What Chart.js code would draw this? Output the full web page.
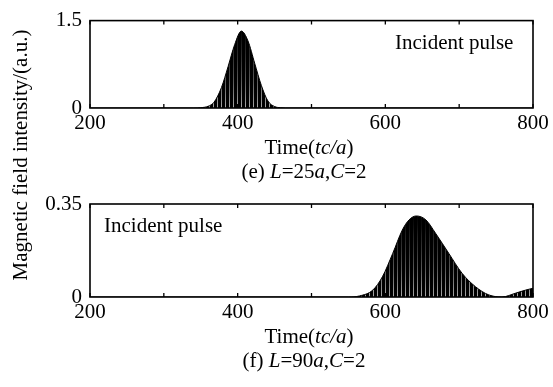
<!DOCTYPE html>
<html>
<head>
<meta charset="utf-8">
<script src="https://cdn.jsdelivr.net/npm/chart.js@4.4.0/dist/chart.umd.min.js"></script>
<style>
  body { margin: 0; background: #fff; }
  #wrap { position: relative; width: 553px; height: 387px; }
  #wrap canvas { position: absolute; left: 0; top: 0; }
</style>
</head>
<body>
<div id="wrap">
  <canvas id="chartE" width="553" height="387"></canvas>
  <canvas id="chartF" width="553" height="387"></canvas>
</div>
<script>
// ---------- data
let timeE = [200, 340, 350, 360, 368, 378, 387, 396, 405, 414, 423, 432, 441, 450, 458, 465, 800];
let fieldE = [0, 0, 0.005, 0.03, 0.1, 0.35, 0.71, 1.09, 1.32, 1.15, 0.77, 0.39, 0.12, 0.025, 0.005, 0, 0];

let timeF = [200, 550, 565, 583, 596, 610, 623, 632, 642, 655, 668, 686, 704, 722, 740, 758, 776, 790, 800];
let fieldF = [0, 0, 0.004, 0.026, 0.076, 0.164, 0.252, 0.29, 0.305, 0.29, 0.24, 0.164, 0.089, 0.039, 0.008, 0, 0.014, 0.026, 0.033];

let xTicks = [200, 300, 400, 500, 600, 700, 800];
let xLabels = ['200', '', '400', '', '600', '', '800'];
let yTicksE = ['0', '1.5'];
let yTicksF = ['0', '0.35'];

let serif = '"Liberation Serif", "Times New Roman", serif';
let fontSize = 21;

// ---------- helpers

// striped fill that looks like the dense oscillation
function stripes(bottom){
  let c = document.createElement('canvas');
  c.width = 4;
  c.height = 387;
  let g = c.getContext('2d');
  g.fillStyle = '#000';
  g.fillRect(0, 0, 4, 387);
  let grad = g.createLinearGradient(0, bottom, 0, bottom - 90);
  grad.addColorStop(0, 'rgba(200,200,200,0.85)');
  grad.addColorStop(0.3, 'rgba(150,150,150,0.6)');
  grad.addColorStop(0.7, 'rgba(90,90,90,0.35)');
  grad.addColorStop(1, 'rgba(0,0,0,0)');
  g.fillStyle = grad;
  g.fillRect(1, 0, 1, 387);
  return g.createPattern(c, 'repeat');
}

// text made of plain and italic pieces
function richText(ctx, parts, x, y, align){
  let widths = parts.map(p => {
    ctx.font = (p[1] ? 'italic ' : '') + fontSize + 'px ' + serif;
    return ctx.measureText(p[0]).width;
  });
  let total = widths.reduce((a, b) => a + b, 0);
  let cx = align === 'center' ? x - total / 2 : x;
  ctx.textAlign = 'left';
  ctx.textBaseline = 'alphabetic';
  ctx.fillStyle = '#000';
  parts.forEach((p, i) => {
    ctx.font = (p[1] ? 'italic ' : '') + fontSize + 'px ' + serif;
    ctx.fillText(p[0], cx, y);
    cx += widths[i];
  });
}

// frame, inward ticks and the texts of a panel
let panelDeco = {
  id: 'panelDeco',
  afterDatasetsDraw(chart, args, opts){
    let ctx = chart.ctx;
    let a = chart.chartArea;
    let xs = chart.scales.x;
    ctx.save();
    ctx.strokeStyle = '#000';
    ctx.lineWidth = 1.6;
    ctx.strokeRect(a.left, a.top, a.right - a.left, a.bottom - a.top);
    ctx.lineWidth = 1.3;
    xTicks.forEach(v => {
      let px = xs.getPixelForValue(v);
      ctx.beginPath();
      ctx.moveTo(px, a.bottom);
      ctx.lineTo(px, a.bottom - 4);
      ctx.moveTo(px, a.top);
      ctx.lineTo(px, a.top + 4);
      ctx.stroke();
    });
    richText(ctx, [['Time('], ['tc/a', true], [')']], 309, a.bottom + 46, 'center');
    richText(ctx, opts.caption, 304, a.bottom + 70, 'center');
    richText(ctx, [['Incident pulse']], opts.noteX, a.top + opts.noteY, 'left');
    if (opts.yTitle){
      ctx.translate(27, 155);
      ctx.rotate(-Math.PI / 2);
      richText(ctx, [['Magnetic field intensity/(a.u.)']], 0, 0, 'center');
    }
    ctx.restore();
  }
};

function makePanel(id, times, values, yMax, yLabels, padTop, deco){
  let points = times.map((t, i) => ({x: t, y: values[i]}));
  let bottom = padTop + 93;
  return new Chart(document.getElementById(id), {
    type: 'line',
    data: {
      datasets: [{
        data: points,
        borderColor: '#000',
        borderWidth: 1,
        backgroundColor: stripes(bottom),
        fill: 'origin',
        pointRadius: 0,
        cubicInterpolationMode: 'monotone'
      }]
    },
    options: {
      responsive: false,
      animation: false,
      devicePixelRatio: 1,
      layout: { padding: { left: 0, right: 20, top: padTop, bottom: 387 - bottom - 33 } },
      plugins: {
        legend: { display: false },
        tooltip: { enabled: false },
        panelDeco: deco
      },
      scales: {
        x: {
          type: 'linear',
          min: 200,
          max: 800,
          afterBuildTicks: s => { s.ticks = xTicks.map(v => ({value: v})); },
          afterFit: s => { s.height = 33; },
          ticks: {
            autoSkip: false,
            maxRotation: 0,
            padding: 3,
            color: '#000',
            font: { family: serif, size: fontSize },
            callback: (v, i) => xLabels[i]
          },
          grid: { display: false, drawTicks: false },
          border: { display: false }
        },
        y: {
          min: 0,
          max: yMax,
          afterBuildTicks: s => { s.ticks = [{value: 0}, {value: yMax}]; },
          afterFit: s => { s.width = 90; },
          ticks: {
            padding: 8,
            color: '#000',
            font: { family: serif, size: fontSize },
            callback: (v, i) => yLabels[i]
          },
          grid: { display: false, drawTicks: false },
          border: { display: false }
        }
      }
    },
    plugins: [panelDeco]
  });
}

makePanel('chartE', timeE, fieldE, 1.5, yTicksE, 15, {
  caption: [['(e) '], ['L', true], ['=25'], ['a', true], [','], ['C', true], ['=2']],
  noteX: 395, noteY: 28, yTitle: true
});
makePanel('chartF', timeF, fieldF, 0.35, yTicksF, 204, {
  caption: [['(f) '], ['L', true], ['=90'], ['a', true], [','], ['C', true], ['=2']],
  noteX: 104, noteY: 28, yTitle: false
});
</script>
</body>
</html>
